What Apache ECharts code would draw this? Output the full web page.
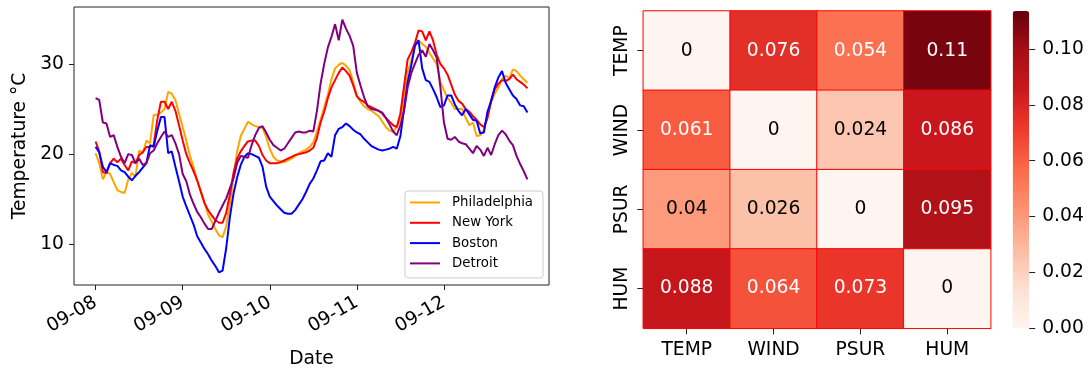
<!DOCTYPE html>
<html>
<head>
<meta charset="utf-8">
<script src="https://cdn.jsdelivr.net/npm/echarts@6/dist/echarts.min.js"></script>
<style>
  html, body { margin: 0; padding: 0; background: #fff; }
  #chart { width: 1090px; height: 370px; }
</style>
</head>
<body>
<div id="chart"></div>
<script>
// Hourly temperatures (°C), 09-08 00:00 through 09-12 23:00
const dayLabels = ['09-08', '09-09', '09-10', '09-11', '09-12'];
const hoursPerDay = 24;

const philadelphia = [
  20.1, 19.0, 17.2, 18.0, 17.8, 16.9, 16.0, 15.8, 15.7, 17.2, 17.9, 17.5,
  20.4, 20.1, 21.5, 21.2, 24.3, 24.4, 24.6, 25.0, 26.9, 26.7, 26.0, 24.5,
  23.0, 21.5, 19.8, 18.6, 17.0, 16.0, 14.6, 13.3, 12.5, 11.7, 11.0, 10.8,
  12.0, 14.5, 17.5, 20.3, 22.0, 22.8, 23.6, 23.3, 23.1, 23.0, 22.9, 21.9,
  20.6, 19.7, 19.3, 19.2, 19.1, 19.3, 19.5, 19.8, 20.1, 20.3, 20.5, 20.8,
  21.3, 22.5, 23.8, 25.2, 26.6, 28.3, 29.5, 29.9, 30.1, 29.8, 29.3, 28.0,
  26.5, 25.8, 25.3, 25.0, 24.8, 24.5, 24.2, 23.6, 23.0, 22.6, 22.5, 23.0,
  24.0, 26.5, 29.0, 30.4, 32.0, 32.6, 32.2, 31.9, 31.2, 30.6, 30.0, 28.0,
  27.1, 26.2, 25.7, 25.0, 25.0, 25.0, 24.0, 23.2, 23.5, 22.0, 22.1, 22.7,
  24.2, 25.7, 26.7, 27.4, 28.3, 28.7, 28.4, 29.4, 29.2, 28.7, 28.3, 27.9
];
const newYork = [
  21.4, 20.3, 18.0, 17.9, 19.0, 19.5, 19.1, 19.5, 18.8, 18.2, 19.2, 19.0,
  19.9, 20.2, 20.8, 20.8, 21.0, 23.8, 25.8, 25.8, 25.0, 25.8, 24.8, 23.2,
  21.5, 20.0, 19.0, 18.1, 17.1, 15.8, 14.6, 13.8, 13.2, 12.7, 12.4, 12.4,
  13.5, 15.5, 17.9, 19.5, 20.3, 20.9, 21.4, 21.5, 21.5, 20.9, 19.9, 19.3,
  19.0, 19.0, 19.0, 19.1, 19.3, 19.5, 19.7, 19.9, 20.0, 20.1, 20.2, 20.4,
  20.7, 21.8, 23.5, 24.7, 26.2, 27.4, 28.2, 29.0, 29.6, 29.2, 28.7, 27.6,
  26.4, 26.0, 25.8, 25.4, 25.2, 25.0, 24.8, 24.5, 24.0, 23.6, 23.2, 23.0,
  24.5, 27.5, 30.5, 31.3, 32.3, 33.7, 33.6, 32.6, 33.6, 32.6, 31.0, 30.0,
  29.5, 28.8, 27.7, 26.6, 25.9, 25.6, 25.0, 24.7, 24.2, 23.8, 23.3, 23.0,
  24.0, 25.9, 27.2, 27.8, 28.2, 28.1, 28.3, 28.8, 28.3, 28.0, 27.7, 27.3
];
const boston = [
  20.8, 20.2, 18.6, 18.0, 19.0, 18.8, 18.7, 18.2, 18.0, 17.5, 17.1, 17.6,
  18.0, 18.5, 19.0, 21.0, 20.8, 22.6, 24.1, 24.1, 20.1, 20.3, 18.6, 17.0,
  15.3, 14.2, 13.2, 12.2, 10.9, 10.2, 9.5, 8.9, 8.2, 7.6, 6.9, 7.1,
  9.6, 13.0, 15.6, 17.4, 18.8, 19.7, 20.1, 20.0, 19.8, 19.6, 18.6, 16.4,
  15.3, 14.8, 14.3, 13.9, 13.5, 13.4, 13.4, 13.8, 14.4, 15.0, 15.8, 16.7,
  17.3, 18.2, 19.2, 19.3, 20.1, 19.7, 22.1, 22.8, 23.0, 23.4, 23.1, 22.7,
  22.4, 22.2, 21.7, 21.3, 20.9, 20.7, 20.5, 20.4, 20.5, 20.6, 20.8, 20.6,
  22.0, 25.0, 28.0, 29.8, 32.0, 32.6, 29.5, 28.2, 28.0, 27.2, 26.3, 25.2,
  25.4, 26.5, 26.5, 25.5, 24.8, 24.3, 25.0, 24.4, 23.8, 23.7, 22.3, 22.4,
  24.7, 25.9, 27.4, 28.5, 29.2, 27.9, 27.2, 26.5, 26.1, 25.4, 25.3, 24.6
];
const detroit = [
  26.2, 26.0, 23.5, 23.4, 21.9, 22.1, 20.8, 19.7, 19.0, 20.0, 19.9, 19.0,
  19.5, 18.8, 19.0, 20.1, 20.4, 21.2, 21.9, 22.5, 21.9, 22.1, 21.2, 20.0,
  17.8, 17.0, 15.5, 14.5, 13.6, 13.0, 12.3, 11.7, 11.7, 12.6, 13.5, 14.3,
  15.1, 16.2, 17.3, 19.0, 19.8, 19.7, 19.6, 21.0, 22.1, 22.9, 23.1, 22.4,
  21.6, 21.0, 20.7, 20.4, 20.6, 21.2, 21.8, 22.4, 22.5, 22.4, 22.4, 22.6,
  22.5, 24.8, 27.8, 30.0, 31.8, 33.0, 34.4, 32.6, 34.9, 33.9, 33.1, 32.0,
  29.0, 27.6, 26.3, 25.3, 25.0, 24.9, 24.8, 24.6, 24.0, 23.3, 22.5, 22.1,
  23.2, 24.8, 27.4, 29.0, 30.0, 31.0, 31.5, 30.8, 32.2, 31.5, 30.7, 27.5,
  23.5, 21.7, 21.6, 21.9, 21.4, 21.2, 21.1, 20.6, 20.1, 20.9, 20.5, 19.8,
  20.7, 19.9, 21.1, 22.1, 22.6, 22.2, 21.5, 21.0, 19.8, 18.9, 18.1, 17.2
];
const cityNames = ['Philadelphia', 'New York', 'Boston', 'Detroit'];
const cityColors = ['#FFA500', '#FF0000', '#0000FF', '#800080'];
const temperatureTicks = [10, 20, 30];

// Pairwise matrix between weather variables (row = first variable)
const variables = ['TEMP', 'WIND', 'PSUR', 'HUM'];
const matrixTEMP = [0, 0.076, 0.054, 0.11];
const matrixWIND = [0.061, 0, 0.024, 0.086];
const matrixPSUR = [0.04, 0.026, 0, 0.095];
const matrixHUM = [0.088, 0.064, 0.073, 0];
const colorbarTicks = [0, 0.02, 0.04, 0.06, 0.08, 0.10];
const colorbarMax = 0.1136;

// matplotlib "Reds" colour map
const reds = ['#fff5f0', '#fee0d2', '#fcbba1', '#fc9272', '#fb6a4a',
              '#ef3b2c', '#cb181d', '#a50f15', '#67000d'];

const FONT = 'DejaVu Sans';
const FS = 18.7;
const INK = '#222';

const cities = [philadelphia, newYork, boston, detroit];
const nPts = philadelphia.length;
const xPad = (nPts - 1) * 0.05;
const allVals = cities.flat();
const yLo = Math.min(...allVals), yHi = Math.max(...allVals);
const yPad = (yHi - yLo) * 0.05;
const dayTickHours = dayLabels.map((_, i) => i * hoursPerDay);

const matrixRows = [matrixTEMP, matrixWIND, matrixPSUR, matrixHUM];
const heatData = [];
matrixRows.forEach((row, r) => row.forEach((v, c) => {
  heatData.push({
    value: [c, r, v],
    label: { color: v / colorbarMax > 0.42 ? '#ffffff' : '#000000' }
  });
}));
const fmt2g = v => String(Number(v.toPrecision(2)));

const lineSeries = cities.map((vals, i) => ({
  name: cityNames[i],
  type: 'line',
  xAxisIndex: 0, yAxisIndex: 0,
  data: vals.map((v, h) => [h, v]),
  showSymbol: false, symbol: 'none',
  lineStyle: { color: cityColors[i], width: 2 },
  itemStyle: { color: cityColors[i] },
  animation: false
}));

const chart = echarts.init(document.getElementById('chart'), null, { renderer: 'canvas' });
chart.setOption({
  animation: false,
  textStyle: { fontFamily: FONT },
  grid: [
    { left: 74, top: 7, width: 475, height: 278, outerBoundsMode: 'none', containLabel: false,
      show: true, borderColor: INK, borderWidth: 1, backgroundColor: 'transparent' },
    { left: 643.3, top: 11, width: 347.4, height: 317.3, outerBoundsMode: 'none', containLabel: false },
    { left: 1012.7, top: 11, width: 16.5, height: 317.3, outerBoundsMode: 'none', containLabel: false }
  ],
  xAxis: [
    {
      type: 'value', gridIndex: 0,
      min: -xPad, max: nPts - 1 + xPad,
      axisLine: { show: false, onZero: false },
      splitLine: { show: false },
      axisTick: { show: true, customValues: dayTickHours, length: 5, lineStyle: { color: INK, width: 1 } },
      axisLabel: {
        customValues: dayTickHours, rotate: 30, margin: 16,
        formatter: v => dayLabels[Math.round(v / hoursPerDay)],
        fontSize: FS, color: '#000', fontFamily: FONT
      },
      name: 'Date', nameLocation: 'middle', nameGap: 65,
      nameTextStyle: { fontSize: FS, color: '#000', fontFamily: FONT }
    },
    {
      type: 'category', gridIndex: 1, data: variables, position: 'bottom',
      axisLine: { show: false, onZero: false },
      axisTick: { show: true, alignWithLabel: true, length: 6, lineStyle: { color: INK, width: 1 } },
      axisLabel: { fontSize: FS, color: '#000', margin: 12, fontFamily: FONT },
      splitLine: { show: false }
    },
    { type: 'value', gridIndex: 2, show: false, min: 0, max: 1 }
  ],
  yAxis: [
    {
      type: 'value', gridIndex: 0,
      min: yLo - yPad, max: yHi + yPad,
      axisLine: { show: false, onZero: false },
      splitLine: { show: false },
      axisTick: { show: true, customValues: temperatureTicks, length: 5, lineStyle: { color: INK, width: 1 } },
      axisLabel: { customValues: temperatureTicks, fontSize: FS, color: '#000', margin: 10, fontFamily: FONT },
      name: 'Temperature °C', nameLocation: 'middle', nameGap: 44,
      nameTextStyle: { fontSize: FS, color: '#000', fontFamily: FONT }
    },
    {
      type: 'category', gridIndex: 1, data: variables, inverse: true,
      axisLine: { show: false, onZero: false },
      axisTick: { show: true, alignWithLabel: true, length: 6, lineStyle: { color: INK, width: 1 } },
      axisLabel: { fontSize: FS, color: '#000', rotate: 90, margin: 12, fontFamily: FONT },
      splitLine: { show: false }
    },
    {
      type: 'value', gridIndex: 2, position: 'right',
      min: 0, max: colorbarMax,
      axisLine: { show: false, onZero: false },
      splitLine: { show: false },
      axisTick: { show: true, customValues: colorbarTicks, length: 6, lineStyle: { color: INK, width: 1 } },
      axisLabel: {
        customValues: colorbarTicks, margin: 13,
        formatter: v => v.toFixed(2),
        fontSize: FS, color: '#000', fontFamily: FONT
      }
    }
  ],
  legend: {
    orient: 'vertical',
    left: 405, top: 191,
    data: cityNames,
    icon: 'rect',
    itemWidth: 30, itemHeight: 2,
    itemGap: 5.3,
    padding: [4, 10, 7, 5],
    borderColor: '#cccccc', borderWidth: 1, borderRadius: 3,
    backgroundColor: 'rgba(255,255,255,0.8)',
    textStyle: { fontSize: 13.3, color: '#000', fontFamily: FONT, lineHeight: 15, padding: [0, 0, 0, 7] }
  },
  visualMap: {
    type: 'continuous',
    seriesIndex: 4,
    min: 0, max: colorbarMax,
    inRange: { color: reds },
    left: 1012.7, top: 11,
    itemWidth: 16.5, itemHeight: 317.3,
    padding: 0,
    calculable: false,
    hoverLink: false,
    text: null,
    showLabel: false
  },
  series: [
    ...lineSeries,
    {
      type: 'heatmap',
      xAxisIndex: 1, yAxisIndex: 1,
      data: heatData,
      itemStyle: { borderColor: '#ff0000', borderWidth: 1 },
      label: {
        show: true,
        formatter: p => fmt2g(p.value[2]),
        fontSize: FS, fontFamily: FONT
      },
      emphasis: { disabled: true }
    }
  ]
});
</script>
</body>
</html>
